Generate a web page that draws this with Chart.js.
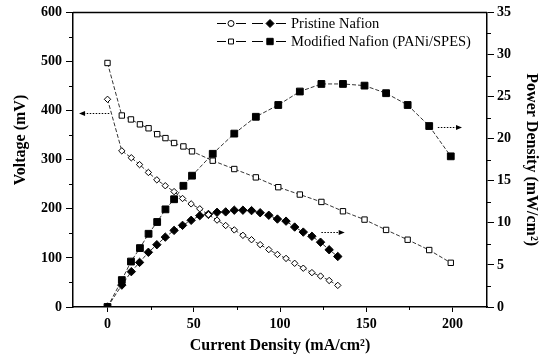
<!DOCTYPE html>
<html>
<head>
<meta charset="utf-8">
<script src="https://cdn.jsdelivr.net/npm/chart.js@4.4.0/dist/chart.umd.min.js"></script>
<style>
    html, body { margin: 0; padding: 0; background: #fff; }
    #wrap { width: 543px; height: 359px; }
</style>
</head>
<body>
<div id="wrap"><canvas id="fuelCell" width="543" height="359"></canvas></div>
<script>
// current density (mA/cm2)
const pristineCurrent = [0, 8.3, 13.8, 18.6, 23.7, 28.6, 33.5, 38.6, 43.5, 48.5, 53.5, 58.5, 63.5, 68.5,
    73.5, 78.5, 83.5, 88.5, 93.5, 98.5, 103.5, 108.5, 113.5, 118.5, 123.5, 128.5, 133.5];
const pristineVoltage = [423, 318, 304, 290, 274, 259, 247, 235, 221, 210, 200, 188, 177, 166,
    157, 146, 137, 127, 117, 107, 99, 89, 79, 70, 63, 54, 44];
const pristinePower = [0, 2.6, 4.2, 5.3, 6.5, 7.4, 8.3, 9.1, 9.7, 10.3, 10.85, 11.0, 11.25, 11.3,
    11.5, 11.5, 11.45, 11.2, 10.9, 10.45, 10.2, 9.5, 8.9, 8.4, 7.7, 6.8, 6.0];

const modifiedCurrent = [0, 8.3, 13.6, 18.8, 23.8, 28.8, 33.6, 38.6, 44, 49, 61, 73.5, 86, 99,
    111.5, 124, 136.5, 149, 161.5, 174, 186.5, 199];
const modifiedVoltage = [497, 390, 382, 372, 364, 352, 344, 334, 327, 317, 298, 281, 264, 244,
    229, 214, 195, 178, 157, 137, 116, 90];
const modifiedPower = [0, 3.2, 5.4, 7.0, 8.7, 10.1, 11.6, 12.8, 14.4, 15.6, 18.2, 20.6, 22.6, 24.0,
    25.6, 26.5, 26.5, 26.3, 25.4, 24.0, 21.5, 17.9];

const xTicks = [0, 50, 100, 150, 200];
const xMinorTicks = [25, 75, 125, 175];
const voltageTicks = [0, 100, 200, 300, 400, 500, 600];
const voltageMinorTicks = [50, 150, 250, 350, 450, 550];
const powerTicks = [0, 5, 10, 15, 20, 25, 30, 35];
const powerMinorTicks = [2.5, 7.5, 12.5, 17.5, 22.5, 27.5, 32.5];

const serif = "'Liberation Serif', 'DejaVu Serif', serif";
Chart.defaults.font.family = serif;
Chart.defaults.color = '#000';

function toPoints(xs, ys) {
    return xs.map((x, i) => ({ x: x, y: ys[i] }));
}

function fixedTicks(values) {
    return function (scale) {
        scale.ticks = values.map(v => ({ value: v }));
    };
}

const minorTicks = {
    id: 'minorTicks',
    afterDraw(chart) {
        const { ctx, chartArea: { left, right, top, bottom } } = chart;
        const sx = chart.scales.x, sy = chart.scales.y, sp = chart.scales.y1;
        ctx.save();
        ctx.strokeStyle = '#000';
        ctx.lineWidth = 1;
        ctx.beginPath();
        xMinorTicks.forEach(v => {
            const px = Math.round(sx.getPixelForValue(v)) + 0.5;
            ctx.moveTo(px, bottom);
            ctx.lineTo(px, bottom + 3);
        });
        voltageMinorTicks.forEach(v => {
            const py = Math.round(sy.getPixelForValue(v)) + 0.5;
            ctx.moveTo(left, py);
            ctx.lineTo(left - 4, py);
        });
        powerMinorTicks.forEach(v => {
            const py = Math.round(sp.getPixelForValue(v)) + 0.5;
            ctx.moveTo(right, py);
            ctx.lineTo(right + 4, py);
        });
        ctx.stroke();
        // top frame line
        ctx.lineWidth = 1.5;
        ctx.beginPath();
        ctx.moveTo(left, top);
        ctx.lineTo(right, top);
        ctx.stroke();
        ctx.restore();
    }
};

// left axis title sits a bit above the middle in the original
const voltageTitle = {
    id: 'voltageTitle',
    afterDraw(chart) {
        const { ctx } = chart;
        ctx.save();
        ctx.translate(21, 140);
        ctx.rotate(-Math.PI / 2);
        ctx.font = 'bold 16px ' + serif;
        ctx.fillStyle = '#000';
        ctx.textAlign = 'center';
        ctx.textBaseline = 'middle';
        ctx.fillText('Voltage (mV)', 0, 0);
        ctx.restore();
    }
};

// dotted arrows telling which axis a curve belongs to
const axisArrows = {
    id: 'axisArrows',
    afterDraw(chart) {
        const { ctx } = chart;
        const sx = chart.scales.x;
        const arrows = [
            { axis: 'y', from: 1, to: -16.5, y: 395 },
            { axis: 'y1', from: 191.5, to: 205.5, y: 21.4 },
            { axis: 'y1', from: 124, to: 137.5, y: 8.9 }
        ];
        ctx.save();
        ctx.strokeStyle = '#000';
        ctx.fillStyle = '#000';
        arrows.forEach(a => {
            const ys = chart.scales[a.axis];
            const x1 = sx.getPixelForValue(a.from);
            const x2 = sx.getPixelForValue(a.to);
            const py = Math.round(ys.getPixelForValue(a.y)) + 0.5;
            const dir = x2 > x1 ? 1 : -1;
            ctx.lineWidth = 1;
            ctx.setLineDash([1.5, 1.5]);
            ctx.beginPath();
            ctx.moveTo(x1, py);
            ctx.lineTo(x2 - dir * 4, py);
            ctx.stroke();
            ctx.setLineDash([]);
            ctx.beginPath();
            ctx.moveTo(x2, py);
            ctx.lineTo(x2 - dir * 6, py - 2.5);
            ctx.lineTo(x2 - dir * 6, py + 2.5);
            ctx.closePath();
            ctx.fill();
        });
        ctx.restore();
    }
};

const legendRows = {
    id: 'legendRows',
    afterDraw(chart) {
        const { ctx } = chart;
        const rows = [
            { label: 'Pristine Nafion', open: 'circle', openR: 3, filled: 'rectRot', filledR: 4, y: 23 },
            { label: 'Modified Nafion (PANi/SPES)', open: 'rect', openR: 3.5, filled: 'rect', filledR: 4.5, y: 41 }
        ];
        ctx.save();
        rows.forEach(r => {
            ctx.strokeStyle = '#000';
            ctx.lineWidth = 1;
            ctx.beginPath();
            [[217, 226], [236, 246], [252, 263], [276, 286]].forEach(seg => {
                ctx.moveTo(seg[0], r.y + 0.5);
                ctx.lineTo(seg[1], r.y + 0.5);
            });
            ctx.stroke();
            ctx.fillStyle = '#fff';
            Chart.helpers.drawPoint(ctx, { pointStyle: r.open, radius: r.openR, rotation: 0, borderWidth: 1 }, 231, r.y + 0.5);
            ctx.fillStyle = '#000';
            Chart.helpers.drawPoint(ctx, { pointStyle: r.filled, radius: r.filledR, rotation: 0, borderWidth: 1 }, 270, r.y + 0.5);
            ctx.font = '14.5px ' + serif;
            ctx.textBaseline = 'middle';
            ctx.textAlign = 'left';
            ctx.fillText(r.label, 291, r.y + 1);
        });
        ctx.restore();
    }
};

const lineStyle = {
    borderColor: '#000',
    borderWidth: 0.8,
    borderDash: [4, 2],
    showLine: true,
    pointBorderColor: '#000',
    pointBorderWidth: 1
};

const ctx = document.getElementById('fuelCell').getContext('2d');
const fuelChart = new Chart(ctx, {
    type: 'scatter',
    data: {
        datasets: [
            Object.assign({}, lineStyle, {
                label: 'Pristine Nafion voltage',
                data: toPoints(pristineCurrent, pristineVoltage),
                yAxisID: 'y',
                pointStyle: 'rectRot',
                pointRadius: 3.2,
                pointBackgroundColor: '#fff'
            }),
            Object.assign({}, lineStyle, {
                label: 'Pristine Nafion power',
                data: toPoints(pristineCurrent, pristinePower),
                yAxisID: 'y1',
                pointStyle: 'rectRot',
                pointRadius: 4.2,
                pointBackgroundColor: '#000'
            }),
            Object.assign({}, lineStyle, {
                label: 'Modified Nafion voltage',
                data: toPoints(modifiedCurrent, modifiedVoltage),
                yAxisID: 'y',
                pointStyle: 'rect',
                pointRadius: 3.8,
                pointBackgroundColor: '#fff'
            }),
            Object.assign({}, lineStyle, {
                label: 'Modified Nafion power',
                data: toPoints(modifiedCurrent, modifiedPower),
                yAxisID: 'y1',
                pointStyle: 'rect',
                pointRadius: 4.8,
                pointBackgroundColor: '#000'
            })
        ]
    },
    options: {
        responsive: false,
        animation: false,
        events: [],
        layout: { padding: { top: 10, left: 0, right: 0, bottom: 0 } },
        plugins: {
            legend: { display: false },
            tooltip: { enabled: false }
        },
        scales: {
            x: {
                type: 'linear',
                min: -20,
                max: 220,
                afterBuildTicks: fixedTicks(xTicks),
                afterFit(scale) { scale.height = 52; },
                border: { display: true, color: '#000', width: 1.5 },
                grid: { drawOnChartArea: false, drawTicks: true, tickLength: 5, color: '#000', lineWidth: 1 },
                ticks: { padding: 4, font: { size: 14, weight: 'bold' }, maxRotation: 0 },
                title: {
                    display: true,
                    text: 'Current Density (mA/cm²)',
                    font: { size: 16, weight: 'bold' },
                    padding: { top: 0, bottom: 4 }
                }
            },
            y: {
                type: 'linear',
                position: 'left',
                min: 0,
                max: 600,
                afterBuildTicks: fixedTicks(voltageTicks),
                afterFit(scale) { scale.width = 73; },
                border: { display: true, color: '#000', width: 1.5 },
                grid: { drawOnChartArea: false, drawTicks: true, tickLength: 7, color: '#000', lineWidth: 1 },
                ticks: { padding: 4, font: { size: 14, weight: 'bold' } },
                title: { display: false }
            },
            y1: {
                type: 'linear',
                position: 'right',
                min: 0,
                max: 35,
                afterBuildTicks: fixedTicks(powerTicks),
                afterFit(scale) { scale.width = 56; },
                border: { display: true, color: '#000', width: 1.5 },
                grid: { drawOnChartArea: false, drawTicks: true, tickLength: 7, color: '#000', lineWidth: 1 },
                ticks: { padding: 3, font: { size: 14, weight: 'bold' } },
                title: {
                    display: true,
                    text: 'Power Density (mW/cm²)',
                    font: { size: 16, weight: 'bold' },
                    padding: { top: 2, bottom: 0 }
                }
            }
        }
    },
    plugins: [minorTicks, voltageTitle, axisArrows, legendRows]
});
</script>
</body>
</html>
